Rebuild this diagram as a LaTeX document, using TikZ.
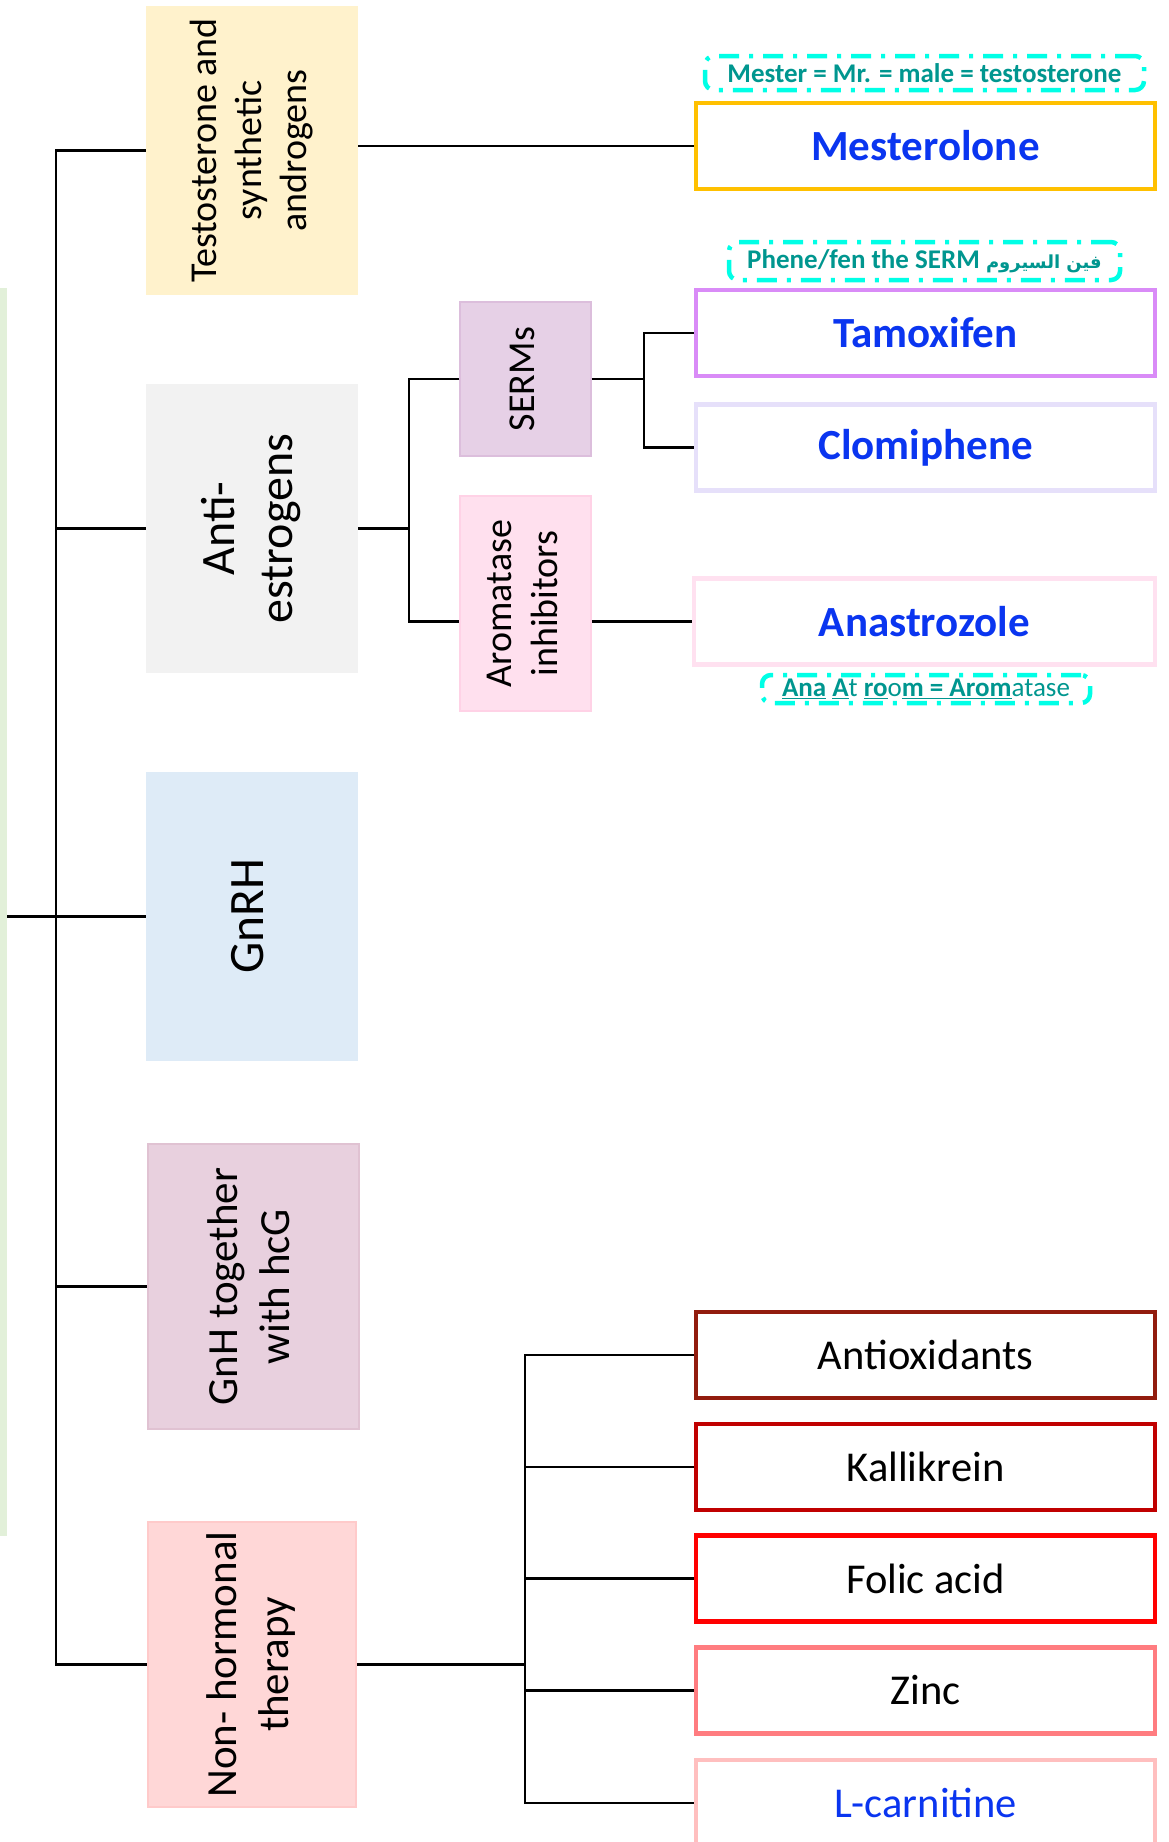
\documentclass[tikz,border=0pt]{standalone}
\usepackage{graphicx}
\usepackage{fontspec}
\setmainfont{Carlito}
\newfontfamily\arabicfont[Script=Arabic]{DejaVu Sans}
\TeXXeTstate=1
\usetikzlibrary{positioning}

\definecolor{rootfill}{HTML}{E2F0D9}
\definecolor{testofill}{HTML}{FFF2CC}
\definecolor{antifill}{HTML}{F2F2F2}
\definecolor{gnrhfill}{HTML}{DEEBF7}
\definecolor{gnhfill}{HTML}{E8D0DE}
\definecolor{gnhline}{HTML}{E0C2D2}
\definecolor{nonfill}{HTML}{FFD7D7}
\definecolor{nonline}{HTML}{FFCACA}
\definecolor{sermfill}{HTML}{E6D0E6}
\definecolor{sermline}{HTML}{DCBEDC}
\definecolor{aromfill}{HTML}{FFE0EE}
\definecolor{aromline}{HTML}{FFD2E6}
\definecolor{mestline}{HTML}{FFC000}
\definecolor{tamoline}{HTML}{D98BF7}
\definecolor{clomline}{HTML}{E6E0FA}
\definecolor{anasline}{HTML}{FFE1F0}
\definecolor{antioxline}{HTML}{921C0E}
\definecolor{kallline}{HTML}{C00000}
\definecolor{folicline}{HTML}{FF0000}
\definecolor{zincline}{HTML}{FF7C80}
\definecolor{lcarnline}{HTML}{FFBFBF}
\definecolor{drugblue}{HTML}{0A35F0}
\definecolor{noteteal}{HTML}{00968F}
\definecolor{notecyan}{HTML}{00FFE6}

\newcommand{\vtext}[1]{\rotatebox{90}{\begin{tabular}{@{}c@{}}#1\end{tabular}}}

\tikzset{
    catbox/.style={inner sep=0pt, minimum width=212pt, minimum height=289pt,
        font=\fontsize{43}{52}\selectfont},
    subbox/.style={draw, line width=1.5pt, inner sep=0pt, minimum width=131pt,
        font=\fontsize{38}{46}\selectfont},
    drugbox/.style={draw, line width=4.5pt, fill=white, inner sep=0pt,
        minimum width=459pt, minimum height=86pt, font=\fontsize{42.5}{50}\selectfont},
    keydrug/.style={drugbox, font=\fontsize{43}{50}\selectfont\bfseries, text=drugblue},
    notebox/.style={draw=notecyan, line width=4.5pt, rounded corners=9pt,
        dash pattern=on 20pt off 10pt on 4pt off 10pt, text=noteteal, inner sep=0pt,
        font=\fontsize{27}{31}\selectfont\bfseries},
    link/.style={line width=2.5pt},
}

\begin{document}
\begin{tikzpicture}[x=1pt, y=-1pt]
    \useasboundingbox (0,0) rectangle (1169,1842);

    % the root box, only its edge shows
    \node[fill=rootfill, inner sep=0pt, minimum width=54pt, minimum height=1248pt] (root) at (-20,912) {};

    % first level
    \node[catbox, fill=testofill, font=\fontsize{38}{45}\selectfont] (testo) at (252,150.5) {\vtext{Testosterone and\\synthetic\\androgens}};
    \node[catbox, fill=antifill, font=\fontsize{48}{58}\selectfont] (antie) at (252,528.5) {\vtext{Anti-\\estrogens}};
    \node[catbox, fill=gnrhfill, font=\fontsize{49.5}{58}\selectfont] (gnrh) at (252,916.5) {\vtext{GnRH}};
    \node[catbox, fill=gnhfill, draw=gnhline, line width=1.5pt, minimum width=211pt, minimum height=285pt] (gnh) at (253.5,1286.5) {\vtext{GnH together\\with hcG}};
    \node[catbox, fill=nonfill, draw=nonline, line width=1.5pt, minimum width=208pt, minimum height=285pt] (nonh) at (252,1664.5) {\vtext{Non- hormonal\\therapy}};

    % second level
    \node[subbox, fill=sermfill, draw=sermline, minimum height=154pt] (serm) at (525.5,379) {\vtext{SERMs}};
    \node[subbox, fill=aromfill, draw=aromline, minimum height=215pt] (arom) at (525.5,603.5) {\vtext{Aromatase\\inhibitors}};

    % drugs
    \node[keydrug, draw=mestline] (mest) at (925.5,146) {Mesterolone};
    \node[keydrug, draw=tamoline] (tamo) at (925.5,333) {Tamoxifen};
    \node[keydrug, draw=clomline] (clom) at (925.5,447.5) {Clomiphene};
    \node[keydrug, draw=anasline, minimum width=461pt] (anas) at (924.5,621.5) {Anastrozole};
    \node[drugbox, draw=antioxline] (antiox) at (925.5,1355) {Antioxidants};
    \node[drugbox, draw=kallline] (kall) at (925.5,1467) {Kallikrein};
    \node[drugbox, draw=folicline] (folic) at (925.5,1578.5) {Folic acid};
    \node[drugbox, draw=zincline] (zinc) at (925.5,1690.5) {Zinc};
    \node[drugbox, draw=lcarnline, text=drugblue] (lcarn) at (925.5,1803) {L-carnitine};

    % memory notes
    \node[notebox, minimum width=439pt, minimum height=34pt] (mestnote) at (924.5,73) {Mester = Mr. = male = testosterone};
    \node[notebox, minimum width=391pt, minimum height=38pt] (tamonote) at (924.5,261) {Phene/fen the SERM {\arabicfont\fontsize{18}{24}\selectfont\beginR فين السيروم\endR}};
    \node[notebox, minimum width=328pt, minimum height=28pt, font=\fontsize{27}{31}\selectfont] (anasnote) at (926,689) {\underline{\textbf{Ana}} \underline{\textbf{A}}t \underline{\textbf{ro}}o\underline{\textbf{m = Arom}}atase};

    % connectors
    \coordinate (spine) at (56,0);
    \coordinate (antibrk) at (409,0);
    \coordinate (sermbrk) at (644,0);
    \coordinate (nonbrk) at (525,0);

    \draw[link] (testo.west) -- (spine |- testo) -- (spine |- nonh) -- (nonh.west);
    \foreach \c in {antie,gnh}
        \draw[link] (spine |- \c) -- (\c.west);
    \draw[link] (root.east |- gnrh) -- (gnrh.west);

    \draw[link] (testo.east |- mest) -- (mest.west);

    \draw[link] (antie.east) -- (antibrk |- antie);
    \draw[link] (serm.west) -- (antibrk |- serm) -- (antibrk |- anas) -- (arom.west |- anas);
    \draw[link] (arom.east |- anas) -- (anas.west);

    \draw[link] (serm.east) -- (sermbrk |- serm);
    \draw[link] (tamo.west) -- (sermbrk |- tamo) -- (sermbrk |- clom) -- (clom.west);

    \draw[link] (nonh.east) -- (nonbrk |- nonh);
    \draw[link] (antiox.west) -- (nonbrk |- antiox) -- (nonbrk |- lcarn) -- (lcarn.west);
    \foreach \d in {kall,folic,zinc}
        \draw[link] (nonbrk |- \d) -- (\d.west);
\end{tikzpicture}
\end{document}
